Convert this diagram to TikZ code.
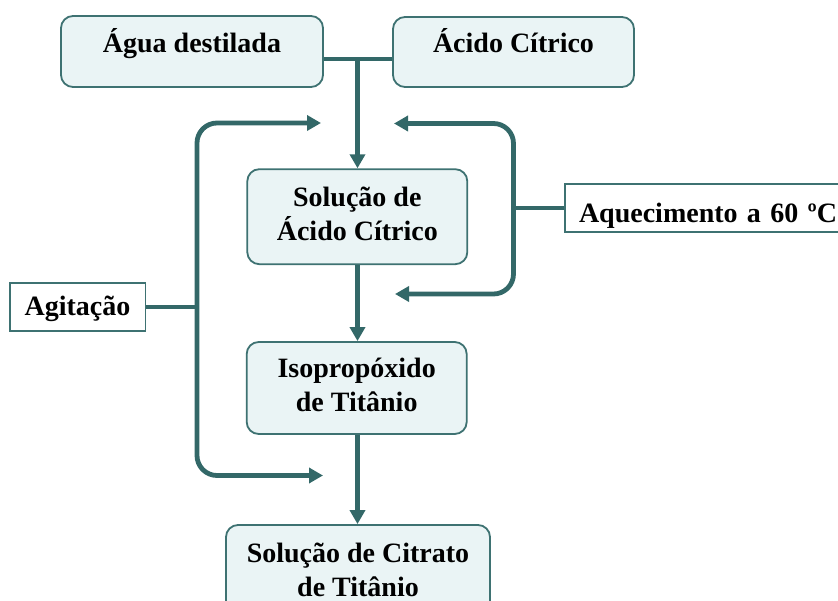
\documentclass[tikz,border=0pt]{standalone}
\usepackage{fontspec}
\setmainfont{Liberation Serif}
\usetikzlibrary{arrows.meta}
\definecolor{linecol}{RGB}{51,104,104}
\definecolor{boxfill}{RGB}{234,244,245}
\definecolor{boxline}{RGB}{62,114,114}
\newcommand\twolines[2]{\rule{0pt}{20pt}#1\\#2\rule[-6pt]{0pt}{6pt}}
\begin{document}
\begin{tikzpicture}[x=1pt,y=-1pt,
  procbox/.style={draw=boxline, line width=1.8pt, fill=boxfill, rounded corners=12pt,
    align=center, font=\fontsize{28}{34}\selectfont\bfseries, inner sep=0pt},
  condbox/.style={draw=boxline, line width=1.5pt, fill=white,
    align=center, font=\fontsize{28}{34}\selectfont\bfseries, inner sep=0pt},
  conn/.style={draw=linecol, line width=4.8pt},
  arr/.style={conn, -{Triangle[length=14pt,width=15pt]}},
  darr/.style={conn, {Triangle[length=14pt,width=15pt]}-{Triangle[length=14pt,width=15pt]}, rounded corners=20pt}
]
\useasboundingbox (0,0) rectangle (838,601);
\node[procbox, minimum width=262pt, minimum height=71pt, text height=18pt, text depth=15pt] (agua) at (192,51.5) {Água destilada};
\node[procbox, minimum width=241pt, minimum height=70pt, text height=18pt, text depth=16pt] (acido) at (513.5,52) {Ácido Cítrico};
\node[procbox, minimum width=220pt, minimum height=95pt] (sol) at (357.3,216.7) {\twolines{Solução de}{Ácido Cítrico}};
\node[procbox, minimum width=220pt, minimum height=92pt] (iso) at (356.7,388) {\twolines{Isopropóxido}{de Titânio}};
\node[procbox, minimum width=264pt, minimum height=94pt] (cit) at (358,572) {\twolines{Solução de Citrato}{de Titânio}};
\node[condbox, minimum width=135.5pt, minimum height=48pt, text height=20pt, text depth=2pt] (agit) at (77.5,307) {Agitação};
\node[condbox, minimum width=280pt, minimum height=48pt, text width=280pt, align=left, text height=30pt, text depth=0pt] (aq) at (705,208) {\hspace*{14pt}Aquecimento a 60 ºC};
% top junction
\coordinate (jt) at (357.5,59);
\draw[conn] (agua.east |- jt) -- (acido.west |- jt);
\draw[arr] (jt) -- (sol.north -| jt);
\draw[arr] (sol.south -| jt) -- (iso.north -| jt);
\draw[arr] (iso.south -| jt) -- (cit.north -| jt);
% left bracket
\coordinate (ltop) at (321,123);
\coordinate (lbot) at (323,475.5);
\coordinate (lmid) at (197,307);
\draw[darr] (ltop) -| (lmid) |- (lbot);
\draw[conn] (agit.east) -- (lmid);
% right bracket
\coordinate (rtop) at (394,123.5);
\coordinate (rbot) at (395,294);
\coordinate (rmid) at (513.5,208);
\draw[darr] (rtop) -| (rmid) |- (rbot);
\draw[conn] (aq.west) -- (rmid);
\end{tikzpicture}
\end{document}
